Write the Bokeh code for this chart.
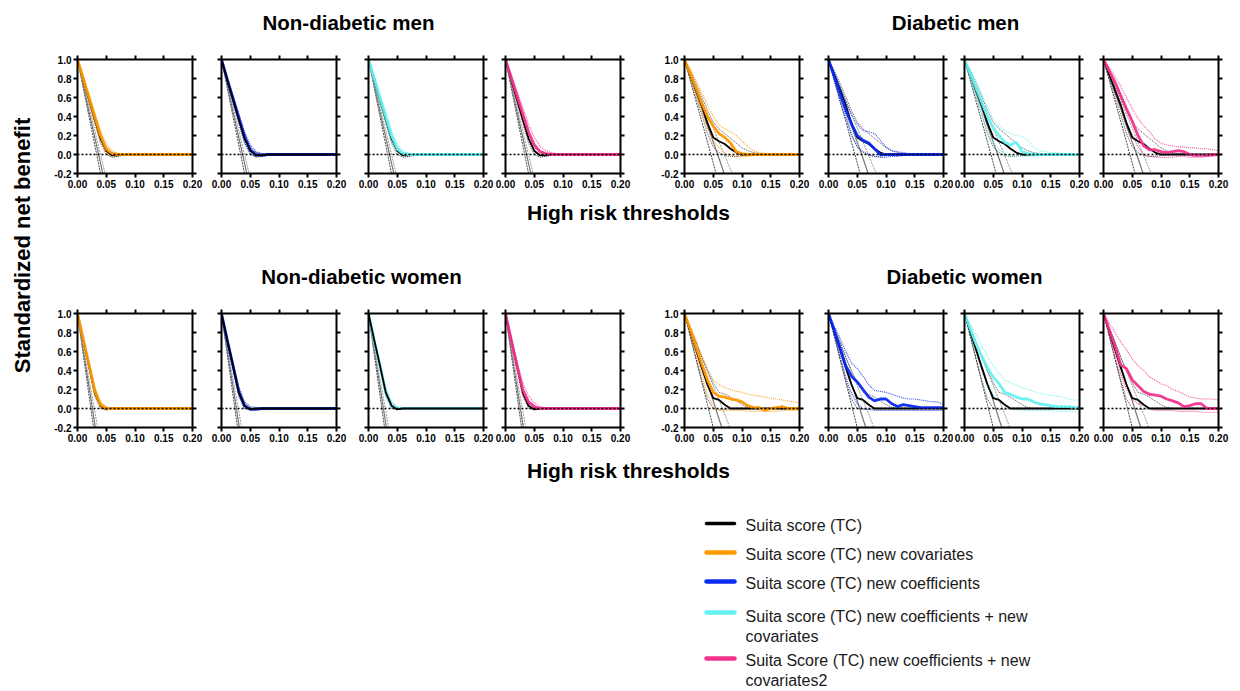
import math
from bokeh.plotting import figure
from bokeh.layouts import row, column
from bokeh.models import Range1d, LinearAxis, FixedTicker, NumeralTickFormatter, Span
from bokeh.embed import file_html
from bokeh.resources import INLINE
from bokeh.core.properties import value

# ---------------- data ----------------
X = [0.00, 0.01, 0.02, 0.03, 0.04, 0.05, 0.06, 0.07, 0.08, 0.09, 0.10,
     0.11, 0.12, 0.13, 0.14, 0.15, 0.16, 0.17, 0.18, 0.19, 0.20]
X_TICKS = [0.0, 0.05, 0.1, 0.15, 0.2]
Y_TICKS = [-0.2, 0.0, 0.2, 0.4, 0.6, 0.8, 1.0]

GROUP_TITLES = ["Non-diabetic men", "Diabetic men", "Non-diabetic women", "Diabetic women"]
X_LABEL = "High risk thresholds"
Y_LABEL = "Standardized net benefit"
SERIES_NAMES = ["Suita score (TC)",
                "Suita score (TC) new covariates",
                "Suita score (TC) new coefficients",
                "Suita score (TC) new coefficients + new\ncovariates",
                "Suita Score (TC) new coefficients + new\ncovariates2"]
SERIES_COLORS = ["#000000", "#FF9900", "#0A2AF0", "#66F2F2", "#F2338C"]

# Non-diabetic men
ndm_treat_a = [1.00, 0.70, 0.40, 0.10, -0.20]
ndm_treat_b = [1.00, 0.73, 0.45, 0.18, -0.09, -0.36]
ndm_treat_c = [1.00, 0.75, 0.50, 0.25, 0.00, -0.25]
ndm_tc       = [1.00, 0.79, 0.58, 0.37, 0.17, 0.04, -0.01, -0.01, 0.00, 0.00, 0.00, 0.00, 0.00, 0.00, 0.00, 0.00, 0.00, 0.00, 0.00, 0.00, 0.00]
ndm_tc_lo    = [1.00, 0.77, 0.55, 0.33, 0.12, 0.00, -0.03, -0.02, -0.01, 0.00, 0.00, 0.00, 0.00, 0.00, 0.00, 0.00, 0.00, 0.00, 0.00, 0.00, 0.00]
ndm_tc_hi    = [1.00, 0.81, 0.61, 0.41, 0.22, 0.08, 0.02, 0.01, 0.00, 0.00, 0.00, 0.00, 0.00, 0.00, 0.00, 0.00, 0.00, 0.00, 0.00, 0.00, 0.00]
ndm_cov      = [1.00, 0.80, 0.60, 0.40, 0.20, 0.06, 0.01, 0.00, 0.00, 0.00, 0.00, 0.00, 0.00, 0.00, 0.00, 0.00, 0.00, 0.00, 0.00, 0.00, 0.00]
ndm_cov_lo   = [1.00, 0.78, 0.56, 0.35, 0.14, 0.01, -0.02, -0.01, 0.00, 0.00, 0.00, 0.00, 0.00, 0.00, 0.00, 0.00, 0.00, 0.00, 0.00, 0.00, 0.00]
ndm_cov_hi   = [1.00, 0.82, 0.63, 0.44, 0.25, 0.11, 0.04, 0.01, 0.00, 0.00, 0.00, 0.00, 0.00, 0.00, 0.00, 0.00, 0.00, 0.00, 0.00, 0.00, 0.00]
ndm_coef     = [1.00, 0.79, 0.59, 0.39, 0.19, 0.05, 0.00, -0.01, 0.00, 0.00, 0.00, 0.00, 0.00, 0.00, 0.00, 0.00, 0.00, 0.00, 0.00, 0.00, 0.00]
ndm_coef_lo  = [1.00, 0.77, 0.55, 0.34, 0.13, 0.01, -0.02, -0.01, 0.00, 0.00, 0.00, 0.00, 0.00, 0.00, 0.00, 0.00, 0.00, 0.00, 0.00, 0.00, 0.00]
ndm_coef_hi  = [1.00, 0.81, 0.62, 0.43, 0.24, 0.10, 0.03, 0.01, 0.00, 0.00, 0.00, 0.00, 0.00, 0.00, 0.00, 0.00, 0.00, 0.00, 0.00, 0.00, 0.00]
ndm_both     = [1.00, 0.80, 0.60, 0.40, 0.20, 0.06, 0.01, 0.00, 0.00, 0.00, 0.00, 0.00, 0.00, 0.00, 0.00, 0.00, 0.00, 0.00, 0.00, 0.00, 0.00]
ndm_both_lo  = [1.00, 0.78, 0.56, 0.35, 0.14, 0.02, -0.01, 0.00, 0.00, 0.00, 0.00, 0.00, 0.00, 0.00, 0.00, 0.00, 0.00, 0.00, 0.00, 0.00, 0.00]
ndm_both_hi  = [1.00, 0.82, 0.63, 0.45, 0.26, 0.11, 0.04, 0.01, 0.00, 0.00, 0.00, 0.00, 0.00, 0.00, 0.00, 0.00, 0.00, 0.00, 0.00, 0.00, 0.00]
ndm_both2    = [1.00, 0.81, 0.62, 0.43, 0.24, 0.10, 0.03, 0.01, 0.00, 0.00, 0.00, 0.00, 0.00, 0.00, 0.00, 0.00, 0.00, 0.00, 0.00, 0.00, 0.00]
ndm_both2_lo = [1.00, 0.78, 0.57, 0.36, 0.16, 0.03, -0.01, 0.00, 0.00, 0.00, 0.00, 0.00, 0.00, 0.00, 0.00, 0.00, 0.00, 0.00, 0.00, 0.00, 0.00]
ndm_both2_hi = [1.00, 0.84, 0.67, 0.50, 0.32, 0.18, 0.09, 0.04, 0.02, 0.01, 0.00, 0.00, 0.00, 0.00, 0.00, 0.00, 0.00, 0.00, 0.00, 0.00, 0.00]

# Diabetic men
dm_treat_a = [1.00, 0.78, 0.56, 0.35, 0.13, -0.09, -0.31]
dm_treat_b = [1.00, 0.83, 0.65, 0.48, 0.30, 0.13, -0.04, -0.22]
dm_treat_c = [1.00, 0.86, 0.71, 0.57, 0.42, 0.28, 0.13, -0.01, -0.16, -0.30]
dm_tc        = [1.00, 0.84, 0.68, 0.52, 0.33, 0.18, 0.14, 0.11, 0.06, 0.02, 0.00, 0.00, 0.00, 0.00, 0.00, 0.00, 0.00, 0.00, 0.00, 0.00, 0.00]
dm_tc_lo     = [1.00, 0.80, 0.60, 0.42, 0.22, 0.08, 0.02, -0.01, -0.02, -0.02, -0.01, 0.00, 0.00, 0.00, 0.00, 0.00, 0.00, 0.00, 0.00, 0.00, 0.00]
dm_tc_hi     = [1.00, 0.88, 0.75, 0.61, 0.46, 0.34, 0.27, 0.22, 0.17, 0.12, 0.07, 0.04, 0.02, 0.01, 0.01, 0.00, 0.00, 0.00, 0.00, 0.00, 0.00]
dm_cov       = [1.00, 0.85, 0.70, 0.54, 0.40, 0.30, 0.22, 0.18, 0.12, 0.03, 0.01, 0.00, 0.00, 0.00, 0.00, 0.00, 0.00, 0.00, 0.00, 0.00, 0.00]
dm_cov_lo    = [1.00, 0.82, 0.62, 0.45, 0.28, 0.15, 0.07, 0.02, -0.01, -0.02, -0.02, -0.02, -0.01, -0.01, 0.00, 0.00, 0.00, 0.00, 0.00, 0.00, 0.00]
dm_cov_hi    = [1.00, 0.90, 0.78, 0.65, 0.52, 0.40, 0.31, 0.27, 0.24, 0.20, 0.14, 0.08, 0.04, 0.02, 0.01, 0.01, 0.00, 0.00, 0.00, 0.00, 0.00]
dm_coef      = [1.00, 0.82, 0.64, 0.47, 0.32, 0.20, 0.15, 0.12, 0.06, 0.00, 0.00, 0.00, 0.00, 0.00, 0.00, 0.00, 0.00, 0.00, 0.00, 0.00, 0.00]
dm_coef_lo   = [1.00, 0.78, 0.57, 0.38, 0.20, 0.08, 0.03, 0.00, -0.02, -0.03, -0.03, -0.02, -0.02, -0.01, -0.01, 0.00, 0.00, 0.00, 0.00, 0.00, 0.00]
dm_coef_hi   = [1.00, 0.87, 0.72, 0.56, 0.42, 0.32, 0.25, 0.24, 0.22, 0.15, 0.08, 0.04, 0.03, 0.02, 0.01, 0.01, 0.01, 0.00, 0.00, 0.00, 0.00]
dm_both      = [1.00, 0.85, 0.70, 0.55, 0.40, 0.28, 0.20, 0.13, 0.10, 0.13, 0.03, 0.01, 0.00, 0.00, 0.00, 0.00, 0.00, 0.00, 0.00, 0.00, 0.00]
dm_both_lo   = [1.00, 0.80, 0.60, 0.42, 0.25, 0.12, 0.05, 0.01, -0.01, -0.02, -0.02, -0.02, -0.02, -0.01, -0.01, 0.00, 0.00, 0.00, 0.00, 0.00, 0.00]
dm_both_hi   = [1.00, 0.90, 0.78, 0.64, 0.50, 0.37, 0.30, 0.25, 0.22, 0.20, 0.19, 0.15, 0.08, 0.04, 0.03, 0.02, 0.02, 0.01, 0.01, 0.01, 0.00]
dm_both2     = [1.00, 0.88, 0.76, 0.62, 0.48, 0.35, 0.20, 0.09, 0.05, 0.05, 0.03, 0.02, 0.03, 0.04, 0.03, 0.00, -0.01, -0.01, -0.01, 0.00, 0.00]
dm_both2_lo  = [1.00, 0.83, 0.66, 0.50, 0.34, 0.20, 0.08, 0.00, -0.02, -0.03, -0.03, -0.03, -0.03, -0.02, -0.02, -0.03, -0.03, -0.03, -0.02, -0.02, -0.01]
dm_both2_hi  = [1.00, 0.92, 0.82, 0.72, 0.60, 0.48, 0.38, 0.30, 0.24, 0.16, 0.12, 0.10, 0.09, 0.08, 0.08, 0.07, 0.07, 0.06, 0.06, 0.05, 0.04]

# Non-diabetic women
ndw_treat_a = [1.00, 0.57, 0.14, -0.29]
ndw_treat_b = [1.00, 0.61, 0.23, -0.16, -0.55]
ndw_treat_c = [1.00, 0.66, 0.31, -0.03, -0.37]
ndw_tc       = [1.00, 0.72, 0.45, 0.17, 0.03, -0.01, 0.00, 0.00, 0.00, 0.00, 0.00, 0.00, 0.00, 0.00, 0.00, 0.00, 0.00, 0.00, 0.00, 0.00, 0.00]
ndw_tc_lo    = [1.00, 0.71, 0.42, 0.13, 0.00, -0.01, 0.00, 0.00, 0.00, 0.00, 0.00, 0.00, 0.00, 0.00, 0.00, 0.00, 0.00, 0.00, 0.00, 0.00, 0.00]
ndw_tc_hi    = [1.00, 0.73, 0.48, 0.21, 0.06, 0.01, 0.00, 0.00, 0.00, 0.00, 0.00, 0.00, 0.00, 0.00, 0.00, 0.00, 0.00, 0.00, 0.00, 0.00, 0.00]
ndw_cov      = [1.00, 0.73, 0.46, 0.19, 0.04, 0.00, 0.00, 0.00, 0.00, 0.00, 0.00, 0.00, 0.00, 0.00, 0.00, 0.00, 0.00, 0.00, 0.00, 0.00, 0.00]
ndw_cov_lo   = [1.00, 0.71, 0.43, 0.15, 0.01, -0.01, 0.00, 0.00, 0.00, 0.00, 0.00, 0.00, 0.00, 0.00, 0.00, 0.00, 0.00, 0.00, 0.00, 0.00, 0.00]
ndw_cov_hi   = [1.00, 0.75, 0.49, 0.23, 0.07, 0.02, 0.00, 0.00, 0.00, 0.00, 0.00, 0.00, 0.00, 0.00, 0.00, 0.00, 0.00, 0.00, 0.00, 0.00, 0.00]
ndw_coef     = [1.00, 0.72, 0.45, 0.18, 0.03, -0.01, -0.01, 0.00, 0.00, 0.00, 0.00, 0.00, 0.00, 0.00, 0.00, 0.00, 0.00, 0.00, 0.00, 0.00, 0.00]
ndw_coef_lo  = [1.00, 0.70, 0.42, 0.14, 0.00, -0.01, -0.01, 0.00, 0.00, 0.00, 0.00, 0.00, 0.00, 0.00, 0.00, 0.00, 0.00, 0.00, 0.00, 0.00, 0.00]
ndw_coef_hi  = [1.00, 0.74, 0.49, 0.23, 0.07, 0.02, 0.01, 0.00, 0.00, 0.00, 0.00, 0.00, 0.00, 0.00, 0.00, 0.00, 0.00, 0.00, 0.00, 0.00, 0.00]
ndw_both     = [1.00, 0.72, 0.45, 0.17, 0.03, 0.00, 0.00, 0.00, 0.00, 0.00, 0.00, 0.00, 0.00, 0.00, 0.00, 0.00, 0.00, 0.00, 0.00, 0.00, 0.00]
ndw_both_lo  = [1.00, 0.71, 0.43, 0.14, 0.01, -0.01, 0.00, 0.00, 0.00, 0.00, 0.00, 0.00, 0.00, 0.00, 0.00, 0.00, 0.00, 0.00, 0.00, 0.00, 0.00]
ndw_both_hi  = [1.00, 0.74, 0.48, 0.22, 0.07, 0.02, 0.01, 0.00, 0.00, 0.00, 0.00, 0.00, 0.00, 0.00, 0.00, 0.00, 0.00, 0.00, 0.00, 0.00, 0.00]
ndw_both2    = [1.00, 0.72, 0.45, 0.20, 0.07, 0.02, 0.00, 0.00, 0.00, 0.00, 0.00, 0.00, 0.00, 0.00, 0.00, 0.00, 0.00, 0.00, 0.00, 0.00, 0.00]
ndw_both2_lo = [1.00, 0.70, 0.41, 0.14, 0.02, -0.01, -0.01, 0.00, 0.00, 0.00, 0.00, 0.00, 0.00, 0.00, 0.00, 0.00, 0.00, 0.00, 0.00, 0.00, 0.00]
ndw_both2_hi = [1.00, 0.75, 0.50, 0.27, 0.13, 0.06, 0.02, 0.01, 0.00, 0.00, 0.00, 0.00, 0.00, 0.00, 0.00, 0.00, 0.00, 0.00, 0.00, 0.00, 0.00]

# Diabetic women
dw_treat_a = [1.00, 0.76, 0.52, 0.28, 0.04, -0.20]
dw_treat_b = [1.00, 0.82, 0.63, 0.45, 0.26, 0.08, -0.11, -0.29]
dw_treat_c = [1.00, 0.85, 0.70, 0.54, 0.39, 0.24, 0.09, -0.06, -0.22]
dw_tc        = [1.00, 0.81, 0.62, 0.43, 0.25, 0.11, 0.09, 0.04, 0.00, 0.00, 0.00, 0.00, 0.00, 0.00, 0.00, 0.00, 0.00, 0.00, 0.00, 0.00, 0.00]
dw_tc_lo     = [1.00, 0.77, 0.53, 0.30, 0.10, 0.00, -0.01, -0.01, 0.00, 0.00, 0.00, 0.00, 0.00, 0.00, 0.00, 0.00, 0.00, 0.00, 0.00, 0.00, 0.00]
dw_tc_hi     = [1.00, 0.85, 0.70, 0.54, 0.40, 0.27, 0.17, 0.15, 0.12, 0.08, 0.04, 0.01, 0.00, 0.00, 0.00, 0.00, 0.00, 0.00, 0.00, 0.00, 0.00]
dw_cov       = [1.00, 0.83, 0.65, 0.47, 0.30, 0.17, 0.13, 0.12, 0.10, 0.09, 0.07, 0.03, 0.01, 0.01, -0.02, 0.00, 0.01, 0.02, 0.00, 0.00, 0.00]
dw_cov_lo    = [1.00, 0.80, 0.58, 0.36, 0.15, 0.02, -0.02, -0.02, -0.02, -0.02, -0.02, -0.03, -0.03, -0.03, -0.03, -0.03, -0.03, -0.02, -0.02, -0.02, -0.02]
dw_cov_hi    = [1.00, 0.86, 0.72, 0.56, 0.42, 0.30, 0.25, 0.22, 0.20, 0.18, 0.17, 0.15, 0.14, 0.13, 0.12, 0.11, 0.10, 0.09, 0.08, 0.07, 0.06]
dw_coef      = [1.00, 0.82, 0.64, 0.45, 0.34, 0.28, 0.20, 0.12, 0.08, 0.10, 0.10, 0.05, 0.02, 0.04, 0.03, 0.02, 0.01, 0.01, 0.01, 0.01, 0.01]
dw_coef_lo   = [1.00, 0.78, 0.56, 0.33, 0.16, 0.05, 0.00, -0.01, -0.02, -0.02, -0.02, -0.02, -0.02, -0.02, -0.02, -0.02, -0.02, -0.02, -0.02, -0.02, -0.02]
dw_coef_hi   = [1.00, 0.87, 0.74, 0.60, 0.48, 0.42, 0.34, 0.25, 0.19, 0.18, 0.17, 0.15, 0.13, 0.11, 0.10, 0.10, 0.09, 0.08, 0.07, 0.07, 0.04]
dw_both      = [1.00, 0.84, 0.68, 0.55, 0.43, 0.33, 0.26, 0.17, 0.15, 0.12, 0.10, 0.10, 0.07, 0.05, 0.04, 0.03, 0.02, 0.02, 0.02, 0.01, 0.01]
dw_both_lo   = [1.00, 0.80, 0.60, 0.42, 0.27, 0.15, 0.08, 0.03, 0.00, -0.01, -0.02, -0.02, -0.02, -0.02, -0.02, -0.02, -0.03, -0.03, -0.03, -0.03, -0.04]
dw_both_hi   = [1.00, 0.89, 0.78, 0.66, 0.55, 0.45, 0.37, 0.30, 0.27, 0.25, 0.22, 0.20, 0.18, 0.16, 0.15, 0.14, 0.13, 0.12, 0.10, 0.09, 0.09]
dw_both2     = [1.00, 0.83, 0.66, 0.46, 0.42, 0.30, 0.24, 0.18, 0.15, 0.14, 0.13, 0.10, 0.08, 0.06, 0.02, 0.03, 0.05, 0.05, 0.00, 0.00, 0.00]
dw_both2_lo  = [1.00, 0.78, 0.56, 0.36, 0.20, 0.10, 0.05, 0.03, 0.00, -0.02, -0.02, -0.02, -0.02, -0.03, -0.03, -0.03, -0.03, -0.04, -0.04, -0.04, -0.04]
dw_both2_hi  = [1.00, 0.90, 0.80, 0.70, 0.62, 0.52, 0.45, 0.40, 0.33, 0.30, 0.26, 0.24, 0.20, 0.18, 0.15, 0.12, 0.11, 0.10, 0.10, 0.10, 0.09]

GROUPS = {
    "ndm": dict(treat=[ndm_treat_a, ndm_treat_b, ndm_treat_c], tc=(ndm_tc, ndm_tc_lo, ndm_tc_hi),
                models=[(ndm_cov, ndm_cov_lo, ndm_cov_hi), (ndm_coef, ndm_coef_lo, ndm_coef_hi),
                        (ndm_both, ndm_both_lo, ndm_both_hi), (ndm_both2, ndm_both2_lo, ndm_both2_hi)]),
    "dm": dict(treat=[dm_treat_a, dm_treat_b, dm_treat_c], tc=(dm_tc, dm_tc_lo, dm_tc_hi),
               models=[(dm_cov, dm_cov_lo, dm_cov_hi), (dm_coef, dm_coef_lo, dm_coef_hi),
                       (dm_both, dm_both_lo, dm_both_hi), (dm_both2, dm_both2_lo, dm_both2_hi)]),
    "ndw": dict(treat=[ndw_treat_a, ndw_treat_b, ndw_treat_c], tc=(ndw_tc, ndw_tc_lo, ndw_tc_hi),
                models=[(ndw_cov, ndw_cov_lo, ndw_cov_hi), (ndw_coef, ndw_coef_lo, ndw_coef_hi),
                        (ndw_both, ndw_both_lo, ndw_both_hi), (ndw_both2, ndw_both2_lo, ndw_both2_hi)]),
    "dw": dict(treat=[dw_treat_a, dw_treat_b, dw_treat_c], tc=(dw_tc, dw_tc_lo, dw_tc_hi),
               models=[(dw_cov, dw_cov_lo, dw_cov_hi), (dw_coef, dw_coef_lo, dw_coef_hi),
                       (dw_both, dw_both_lo, dw_both_hi), (dw_both2, dw_both2_lo, dw_both2_hi)]),
}

# ---------------- layout / style ----------------
FONT = "Liberation Sans"
PANEL_H = 142
# (figure width, left border, right border) for the 8 panels of a row
PANEL_GEOM = [(166, 37, 14), (146, 15, 16), (142, 16, 11), (156, 11, 30),
              (163, 34, 14), (140, 15, 10), (137, 11, 11), (150, 13, 22)]
TREAT_STYLES = [dict(line_color="#444444", line_dash="2 1", line_width=1.0),
                dict(line_color="#777777", line_width=1.2),
                dict(line_color="#999999", line_dash="2 1", line_width=1.0)]
# panels where the black reference line sits on top of the coloured one
TC_ON_TOP = {("ndm", 1), ("ndw", 1), ("ndw", 2)}


def style_axis(ax, ticks, fmt, show_labels):
    ax.ticker = FixedTicker(ticks=ticks)
    ax.formatter = NumeralTickFormatter(format=fmt)
    ax.axis_line_width = 2
    ax.axis_line_color = "black"
    ax.major_tick_line_width = 2
    ax.major_tick_line_color = "black"
    ax.major_tick_out = 4
    ax.major_tick_in = 0
    ax.minor_tick_line_color = None
    ax.major_label_text_font = FONT
    ax.major_label_text_font_style = "bold"
    if show_labels:
        ax.major_label_text_color = "black"
        ax.major_label_text_font_size = "10px"
        ax.major_label_standoff = 2
    else:
        ax.major_label_text_color = None
        ax.major_label_text_font_size = "0px"
        ax.major_label_standoff = 0


def make_panel(i, grp, k):
    w, bl, br = PANEL_GEOM[i]
    p = figure(width=w, height=PANEL_H, x_range=Range1d(0, 0.2), y_range=Range1d(-0.2, 1.0),
               x_axis_type=None, y_axis_type=None, output_backend="svg", toolbar_location=None,
               min_border_left=bl, min_border_right=br, min_border_top=6, min_border_bottom=22)
    p.outline_line_color = None
    for loc in ["below", "above"]:
        ax = LinearAxis()
        style_axis(ax, X_TICKS, "0.00", loc == "below")
        p.add_layout(ax, loc)
    for loc in ["left", "right"]:
        ax = LinearAxis()
        style_axis(ax, Y_TICKS, "0.0", loc == "left" and i in (0, 4))
        p.add_layout(ax, loc)

    g = GROUPS[grp]
    for vals, st in zip(g["treat"], TREAT_STYLES):
        p.line(X[:len(vals)], vals, **st)
    p.add_layout(Span(location=0, dimension="width", line_color="black",
                      line_dash="2 2", line_width=1.3))
    tc, tc_lo, tc_hi = g["tc"]
    m, m_lo, m_hi = g["models"][k]
    col = SERIES_COLORS[k + 1]
    for v in (tc_lo, tc_hi):
        p.line(X, v, line_color="#333333", line_dash="1 1", line_width=1.0, line_alpha=0.85)
    for v in (m_lo, m_hi):
        p.line(X, v, line_color=col, line_dash="1 1", line_width=1.1, line_alpha=0.85)
    if (grp, k) in TC_ON_TOP:
        p.line(X, m, line_color=col, line_width=2.8, line_alpha=0.95)
        p.line(X, tc, line_color="black", line_width=1.8)
    else:
        p.line(X, tc, line_color="black", line_width=1.8)
        p.line(X, m, line_color=col, line_width=2.8, line_alpha=0.95)
    return p


def text_fig(w, h):
    f = figure(width=w, height=h, x_range=Range1d(0, w), y_range=Range1d(0, h),
               x_axis_type=None, y_axis_type=None, output_backend="svg",
               toolbar_location=None, min_border=0)
    f.outline_line_color = None
    return f


def bold_text(f, xs, ys, texts, size="20.5px", angle=0.0):
    f.text(x=xs, y=ys, text=texts, angle=angle, text_font=value(FONT), text_font_style="bold",
           text_font_size=size, text_align="center", text_baseline="middle", text_color="black")


# titles row 1 (column starts at x=40)
t1 = text_fig(1200, 53)
bold_text(t1, [308, 915], [31, 31], [GROUP_TITLES[0], GROUP_TITLES[1]])

row1 = row([make_panel(i, "ndm" if i < 4 else "dm", i % 4) for i in range(8)])

mid = text_fig(1200, 112)
bold_text(mid, [588], [95], [X_LABEL], size="21px")
bold_text(mid, [321, 924], [31, 31], [GROUP_TITLES[2], GROUP_TITLES[3]])

row2 = row([make_panel(i, "ndw" if i < 4 else "dw", i % 4) for i in range(8)])

bot = text_fig(1200, 46)
bold_text(bot, [588], [25], [X_LABEL], size="21px")

ylab = text_fig(40, 495)
bold_text(ylab, [22], [250], [Y_LABEL], size="22px", angle=math.pi / 2)

# legend
LEG_LINE_Y = [168, 139, 110, 79, 33]
LEG_TEXT_Y = [166, 137, 108, 65, 21]
leg = text_fig(1240, 196)
for name, colr, ly, ty in zip(SERIES_NAMES, SERIES_COLORS, LEG_LINE_Y, LEG_TEXT_Y):
    leg.line([706, 734], [ly, ly], line_color=colr, line_width=3.5 if colr == "#000000" else 4.5,
             line_cap="round")
    leg.text(x=[745], y=[ty], text=[name], text_font=value(FONT), text_font_size="16px",
             text_align="left", text_baseline="middle", text_color="#1a1a1a", text_line_height=1.2)

layout = column(row(ylab, column(t1, row1, mid, row2, bot)), leg)

open("out.html", "w").write(file_html(layout, INLINE))
